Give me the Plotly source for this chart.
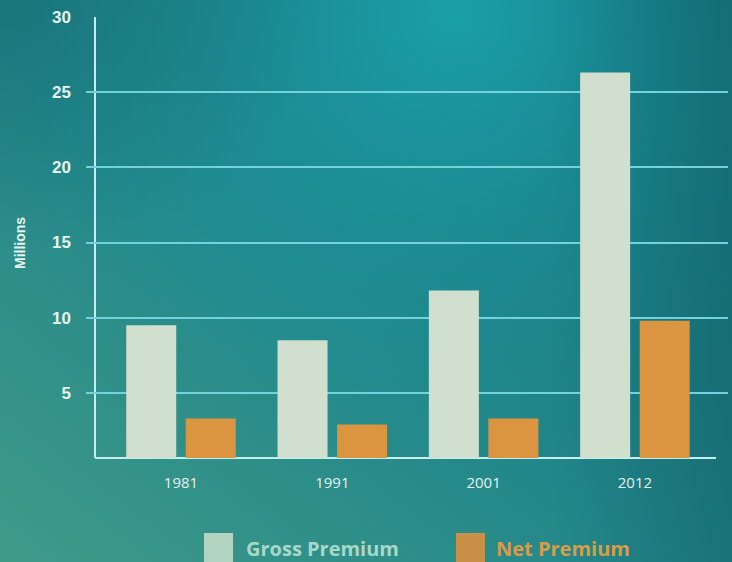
import base64
import plotly.graph_objects as go

years = ["1981", "1991", "2001", "2012"]
gross_premium = [9.5, 8.5, 11.8, 26.3]
net_premium = [3.3, 2.9, 3.3, 9.8]
y_ticks = [5, 10, 15, 20, 25, 30]

W, H = 732, 562
L, R, T, B = 86, 4, 17, 104
PW, PH = W - L - R, H - T - B

svg = f"""<svg xmlns='http://www.w3.org/2000/svg' width='{W}' height='{H}' viewBox='0 0 {W} {H}' preserveAspectRatio='none'>
<defs>
<linearGradient id='a' x1='0' y1='1' x2='1' y2='0'>
<stop offset='0' stop-color='#3f9a88'/>
<stop offset='0.45' stop-color='#22878a'/>
<stop offset='1' stop-color='#146870'/>
</linearGradient>
<radialGradient id='b' cx='0.62' cy='0.02' r='0.6' gradientTransform='translate(0.62 0.02) scale(1 1.3) translate(-0.62 -0.02)'>
<stop offset='0' stop-color='#1aa2ac' stop-opacity='0.95'/>
<stop offset='0.6' stop-color='#1a98a2' stop-opacity='0.4'/>
<stop offset='1' stop-color='#1a98a2' stop-opacity='0'/>
</radialGradient>
<linearGradient id='c' x1='0' y1='0' x2='1' y2='0'>
<stop offset='0.75' stop-color='#0f5e66' stop-opacity='0'/>
<stop offset='1' stop-color='#0f5e66' stop-opacity='0.45'/>
</linearGradient>
<radialGradient id='d' cx='0' cy='0' r='0.45'>
<stop offset='0' stop-color='#156e74' stop-opacity='0.6'/>
<stop offset='1' stop-color='#156e74' stop-opacity='0'/>
</radialGradient>
</defs>
<rect width='{W}' height='{H}' fill='url(#a)'/>
<rect width='{W}' height='{H}' fill='url(#b)'/>
<rect width='{W}' height='{H}' fill='url(#c)'/>
<rect width='{W}' height='{H}' fill='url(#d)'/>
</svg>"""
bg_uri = "data:image/svg+xml;base64," + base64.b64encode(svg.encode()).decode()

fig = go.Figure()
fig.add_trace(go.Bar(x=years, y=gross_premium, name="Gross Premium",
                     marker=dict(color="#d0dfce", line=dict(width=0))))
fig.add_trace(go.Bar(x=years, y=net_premium, name="Net Premium",
                     marker=dict(color="#db9440", line=dict(width=0))))

grid_col = "#74d2dc"
fig.update_layout(
    width=W, height=H,
    margin=dict(l=L, r=R, t=T, b=B, pad=0),
    paper_bgcolor="#1f8888",
    plot_bgcolor="rgba(0,0,0,0)",
    showlegend=False,
    barmode="group",
    bargap=0.213,
    bargroupgap=0.16,
    font=dict(family="Open Sans", color="#e4f4f0"),
    xaxis=dict(
        type="category",
        range=[-0.628, -0.628 + PW / 151.3],
        showgrid=False, zeroline=False, showline=False,
        ticks="", ticklabelstandoff=14,
        tickfont=dict(size=15, color="#e2f2ee", family="Open Sans"),
    ),
    yaxis=dict(
        range=[0.665, 30],
        tickvals=y_ticks,
        ticktext=[str(v) for v in y_ticks],
        showgrid=True, gridcolor=grid_col, gridwidth=2,
        zeroline=False, showline=False,
        ticks="", ticklabelstandoff=14,
        tickfont=dict(size=17, color="#e6f4f0", family="Liberation Sans", weight="bold"),
    ),
    images=[dict(
        source=bg_uri, xref="paper", yref="paper",
        x=-L / PW, y=1 + T / PH, sizex=W / PW, sizey=H / PH,
        xanchor="left", yanchor="top", sizing="stretch", layer="below",
    )],
    shapes=[
        dict(type="line", xref="paper", yref="paper",
             x0=9 / PW, x1=9 / PW, y0=0, y1=1,
             line=dict(color="#c4eef0", width=2), layer="below"),
        dict(type="line", xref="paper", yref="paper",
             x0=9 / PW, x1=(716 - L) / PW, y0=0, y1=0,
             line=dict(color="#c4eef0", width=2), layer="below"),
        dict(type="rect", xref="paper", yref="paper",
             x0=(204 - L) / PW, x1=(233 - L) / PW,
             y0=-(H + 5 - T - PH) / PH, y1=-(533 - T - PH) / PH,
             fillcolor="#b4d4c2", line=dict(width=0)),
        dict(type="rect", xref="paper", yref="paper",
             x0=(456 - L) / PW, x1=(485 - L) / PW,
             y0=-(H + 5 - T - PH) / PH, y1=-(533 - T - PH) / PH,
             fillcolor="#c99048", line=dict(width=0)),
    ],
    annotations=[
        dict(text="<b>Millions</b>", textangle=-90, xref="paper", yref="paper",
             x=(20 - L) / PW, y=(458 - 243) / PH, showarrow=False,
             xanchor="center", yanchor="middle",
             font=dict(size=14, color="#e6f4f0", family="Liberation Sans")),
        dict(text="<b>Gross Premium</b>", xref="paper", yref="paper",
             x=(244 - L) / PW, y=-(548 - T - PH) / PH, showarrow=False,
             xanchor="left", yanchor="middle",
             font=dict(size=20, color="#a8d8c8", family="Open Sans")),
        dict(text="<b>Net Premium</b>", xref="paper", yref="paper",
             x=(494 - L) / PW, y=-(548 - T - PH) / PH, showarrow=False,
             xanchor="left", yanchor="middle",
             font=dict(size=20, color="#d99c46", family="Open Sans")),
    ],
)

fig.write_html("out.html")
